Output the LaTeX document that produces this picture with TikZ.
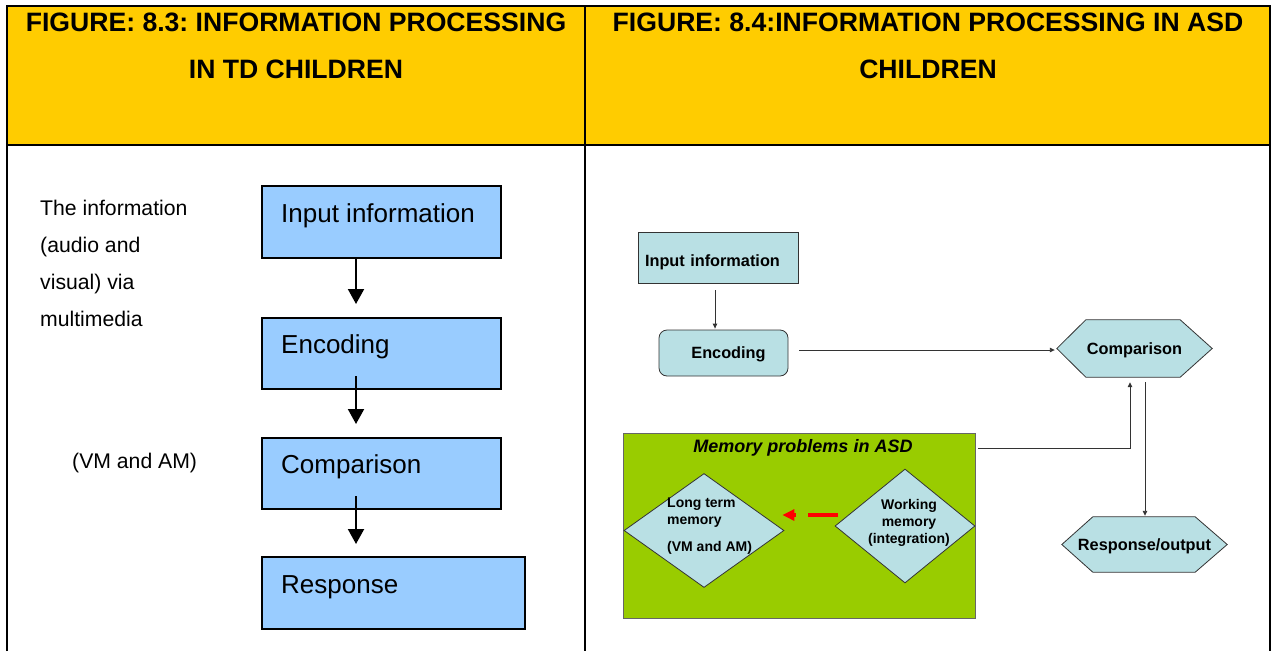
\documentclass[tikz,border=0pt]{standalone}
\usepackage{fontspec}
\setmainfont{Liberation Sans}
\usetikzlibrary{arrows.meta,calc,shapes.geometric,backgrounds}
\definecolor{hdrcol}{HTML}{FFCC00}
\definecolor{lblue}{HTML}{99CCFF}
\definecolor{aqua}{HTML}{B9E0E4}
\definecolor{limecol}{HTML}{99CC00}
\frenchspacing
\begin{document}
\begin{tikzpicture}[x=1pt,y=-1pt,
  hdrtext/.style={font=\fontsize{26.6}{47}\selectfont\bfseries, align=center, inner sep=0},
  lbox/.style={draw, line width=2, fill=lblue, inner sep=0},
  ltext/.style={font=\fontsize{26}{30}\selectfont, inner sep=0, anchor=base west},
  side/.style={font=\fontsize{21.2}{37}\selectfont, inner sep=0, align=left},
  bigarrow/.style={line width=2, -{Triangle[length=15pt,width=16pt]}},
  rbox/.style={draw=black!80, line width=0.8, fill=aqua, inner sep=0, font=\fontsize{16.3}{19}\selectfont\bfseries, text height=11.7pt, text depth=0pt},
  hexnode/.style={inner sep=0, font=\fontsize{16.3}{19}\selectfont\bfseries, text height=11.7pt, text depth=0pt},
  hexline/.style={draw=black!80, line width=0.8, fill=aqua},
  thinarrow/.style={draw=black!80, line width=0.9, -{Triangle[length=5pt,width=4.5pt]}},
  diam/.style={draw=black!80, line width=0.8, fill=aqua, diamond, inner sep=0},
  dtext/.style={font=\fontsize{14}{17}\selectfont\bfseries, inner sep=0},
  redarrow/.style={draw=red, line width=3.5, dash pattern=on 30pt off 12pt, -{Triangle[length=12pt,width=11pt]}}
]
\useasboundingbox (0,0) rectangle (1271,651);
% header
\fill[hdrcol] (7,6) rectangle (1270,145);
\draw[line width=2] (7,651) -- (7,6) -- (1270,6) -- (1270,651);
\draw[line width=2] (7,145) -- (1270,145);
\draw[line width=2] (585,6) -- (585,651);
\node[hdrtext] (h1) at (296,45.5) {FIGURE: 8.3: INFORMATION PROCESSING\\IN TD CHILDREN};
\node[hdrtext] (h2) at (928,45.5) {FIGURE: 8.4:INFORMATION PROCESSING IN ASD\\CHILDREN};
% left panel
\node[side, anchor=north west] (t1) at (40,200) {The information\\(audio and\\visual) via\\multimedia};
\node[side, anchor=west] (t2) at (72,463) {(VM and AM)};
\node[lbox, minimum width=239, minimum height=72] (b1) at (381.5,222) {};
\node[lbox, minimum width=239, minimum height=71] (b2) at (381.5,353.5) {};
\node[lbox, minimum width=239, minimum height=71] (b3) at (381.5,473.5) {};
\node[lbox, minimum width=263, minimum height=72] (b4) at (393.5,593) {};
\node[ltext] (b1t) at ($(b1.west)+(20,0)$) {Input information};
\node[ltext] (b2t) at ($(b2.west)+(20,0)$) {Encoding};
\node[ltext] (b3t) at ($(b3.west)+(20,0)$) {Comparison};
\node[ltext] (b4t) at ($(b4.west)+(20,0)$) {Response};
\draw[bigarrow] ($(b1.south west)+(95,0)$) -- ($(b2.north west)+(95,-13)$);
\draw[bigarrow] ($(b2.south west)+(95,-14)$) -- ($(b3.north west)+(95,-13)$);
\draw[bigarrow] ($(b3.south west)+(95,-14)$) -- ($(b4.north west)+(95,-12)$);
% right panel
\node[rbox, minimum width=160, minimum height=51, text height=18.7pt, inner xsep=7pt, text width=146pt, align=left] (inb) at (718,257.5) {Input information};
\node[rbox, rounded corners=8, minimum width=129, minimum height=46, inner xsep=5pt, text width=119pt, align=center, text height=10.5pt] (enc) at (723.5,353) {\hspace*{10pt}Encoding};
\node[hexnode, minimum width=155, minimum height=57] (comp) at (1134.5,348.5) {Comparison};
\node[hexnode, minimum width=165, minimum height=55] (resp) at (1144.5,544.5) {Response/output};
\begin{scope}[on background layer]
\draw[hexline] (comp.west) -- ($(comp.north west)+(29,0)$) -- ($(comp.north east)+(-32,0)$) -- (comp.east) -- ($(comp.south east)+(-32,0)$) -- ($(comp.south west)+(29,0)$) -- cycle;
\draw[hexline] (resp.west) -- ($(resp.north west)+(31,0)$) -- ($(resp.north east)+(-32,0)$) -- (resp.east) -- ($(resp.south east)+(-32,0)$) -- ($(resp.south west)+(31,0)$) -- cycle;
\end{scope}
\node[draw=black!60, line width=0.8, fill=limecol, minimum width=352, minimum height=185, inner sep=0] (gb) at (799,525.5) {};
\node[font=\fontsize{18}{21}\selectfont\bfseries\itshape, inner sep=0] (gbt) at (803,448) {Memory problems in ASD};
\node[diam, minimum width=160, minimum height=114] (ltm) at (704,530.5) {};
\node[diam, minimum width=140, minimum height=114] (wm) at (905,526) {};
\node[dtext, align=left, anchor=north west] (ltmt) at (667,498) {Long term\\memory\\[10pt](VM and AM)};
\node[dtext, align=center, anchor=north] (wmt) at (909,499) {Working\\memory\\(integration)};
\draw[redarrow] ($(wm.west)+(3,-11)$) -- ($(ltm.east)+(-2,-15.5)$);
% connectors
\draw[thinarrow] ($(inb.south)+(-3,7)$) -- ($(enc.north)+(-8.5,-1)$);
\draw[thinarrow] ($(enc.east)+(11,-3)$) -- ($(comp.west)+(-2,1.5)$);
\draw[thinarrow] ($(gb.north east)+(3,16)$) -| ($(comp.south)+(-4.5,5)$);
\draw[thinarrow] ($(comp.south)+(10.5,5)$) -- ($(resp.north)+(0.5,-1)$);
\end{tikzpicture}
\end{document}
